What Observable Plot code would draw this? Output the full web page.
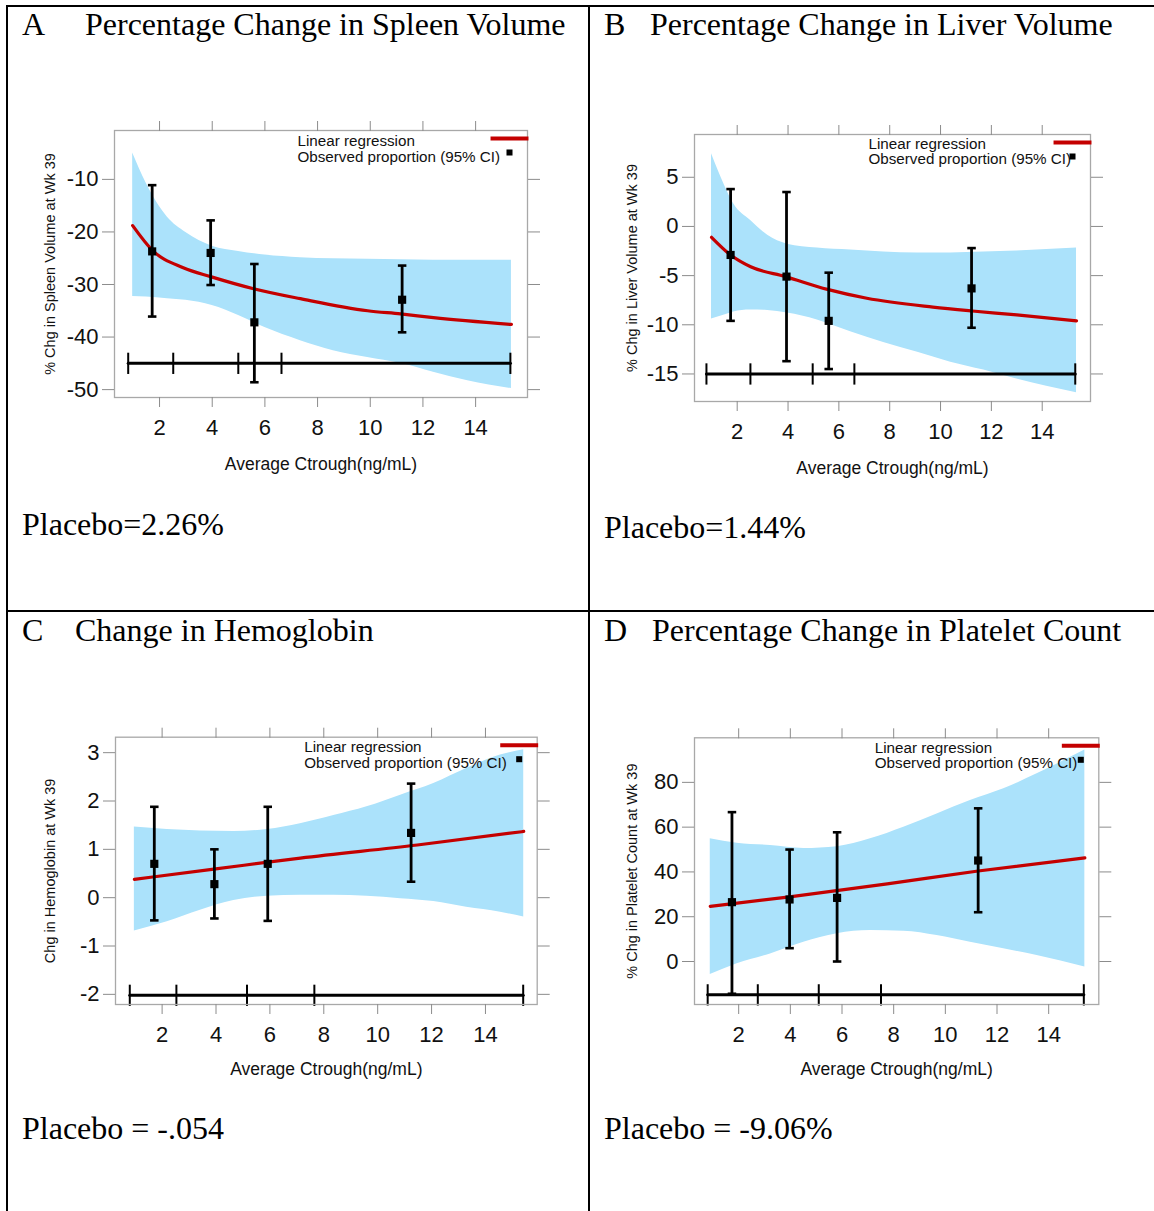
<!DOCTYPE html>
<html>
<head>
<meta charset="utf-8">
<script src="https://cdn.jsdelivr.net/npm/d3@7"></script>
<script src="https://cdn.jsdelivr.net/npm/@observablehq/plot@0.6"></script>
<style>
  body { margin: 0; background: #fff; }
  #fig { position: relative; width: 1154px; height: 1211px; overflow: hidden; background: #fff; }
  .rule { position: absolute; background: #000; }
  .serif { position: absolute; font-family: "Liberation Serif", "Times New Roman", serif; font-size: 32px; line-height: 32px; color: #000; white-space: nowrap; }
  .plot { position: absolute; }
</style>
</head>
<body>
<div id="fig"></div>
<script>
// ---------- shared text / ticks ----------
const xTicks = [2, 4, 6, 8, 10, 12, 14];
const xLabel = "Average Ctrough(ng/mL)";
const legendLineText = "Linear regression";
const legendPointText = "Observed proportion (95% CI)";

// ---------- A: spleen volume ----------
const spleenLetter = "A";
const spleenTitle = "Percentage Change in Spleen Volume";
const spleenYLabel = "% Chg in Spleen Volume at Wk 39";
const spleenPlacebo = "Placebo=2.26%";
const spleenYTicks = [-10, -20, -30, -40, -50];
const spleenBandX  = [0.98, 1.5, 2.3, 3.0, 4.0, 5.0, 6.0, 7.35, 8.6, 9.9, 11.15, 12.4, 13.7, 15.36];
const spleenBandHi = [-5.0, -10.8, -17.2, -20.1, -22.7, -23.7, -24.4, -24.9, -25.1, -25.2, -25.3, -25.4, -25.4, -25.4];
const spleenBandLo = [-32.3, -32.4, -32.7, -33.0, -34.0, -35.9, -38.2, -40.7, -42.6, -43.9, -45.0, -46.7, -48.3, -49.8];
const spleenFitX = [0.98, 1.73, 2.9, 3.94, 5.57, 7.35, 9.9, 11.15, 12.4, 15.36];
const spleenFitY = [-18.8, -23.5, -26.8, -28.5, -30.8, -32.7, -35.0, -35.6, -36.3, -37.6];
const spleenObsX  = [1.72, 3.94, 5.6, 11.21];
const spleenObsY  = [-23.7, -24.0, -37.2, -32.9];
const spleenObsLo = [-36.1, -30.1, -48.6, -39.1];
const spleenObsHi = [-11.1, -17.8, -26.1, -26.4];
const spleenQuartX = [0.81, 2.52, 4.99, 6.63, 15.32];
const spleenQuartLevel = -45.0;

// ---------- B: liver volume ----------
const liverLetter = "B";
const liverTitle = "Percentage Change in Liver Volume";
const liverYLabel = "% Chg in Liver Volume at Wk 39";
const liverPlacebo = "Placebo=1.44%";
const liverYTicks = [5, 0, -5, -10, -15];
const liverBandX  = [0.99, 1.5, 1.86, 2.53, 3.2, 3.97, 5.15, 6.46, 7.76, 9.1, 10.4, 11.7, 13.0, 15.35];
const liverBandHi = [7.4, 4.2, 2.3, 0.6, -0.9, -1.8, -2.2, -2.4, -2.6, -2.7, -2.7, -2.6, -2.5, -2.2];
const liverBandLo = [-9.4, -9.0, -8.7, -8.5, -8.55, -8.8, -9.5, -10.7, -11.8, -12.8, -13.8, -14.6, -15.5, -16.9];
const liverFitX = [0.99, 1.74, 2.53, 3.9, 5.55, 7.1, 9.7, 11.25, 13.0, 15.35];
const liverFitY = [-1.1, -2.9, -4.1, -5.1, -6.4, -7.3, -8.2, -8.6, -9.0, -9.6];
const liverObsX  = [1.74, 3.94, 5.6, 11.22];
const liverObsY  = [-2.9, -5.1, -9.6, -6.3];
const liverObsLo = [-9.6, -13.7, -14.5, -10.3];
const liverObsHi = [3.8, 3.5, -4.7, -2.2];
const liverQuartX = [0.79, 2.52, 4.97, 6.61, 15.3];
const liverQuartLevel = -15.0;

// ---------- C: hemoglobin ----------
const hgbLetter = "C";
const hgbTitle = "Change in Hemoglobin";
const hgbYLabel = "Chg in Hemoglobin at Wk 39";
const hgbPlacebo = "Placebo = -.054";
const hgbYTicks = [3, 2, 1, 0, -1, -2];
const hgbBandX  = [0.97, 2.19, 3.42, 4.66, 5.9, 7.13, 8.37, 9.6, 10.85, 12.08, 13.3, 14.56, 15.42];
const hgbBandHi = [1.46, 1.41, 1.38, 1.37, 1.41, 1.53, 1.7, 1.88, 2.12, 2.36, 2.67, 2.95, 3.06];
const hgbBandLo = [-0.69, -0.5, -0.26, -0.06, 0.03, 0.05, 0.05, 0.03, -0.02, -0.08, -0.2, -0.3, -0.4];
const hgbFitX = [0.97, 3.92, 7.13, 11.47, 15.42];
const hgbFitY = [0.38, 0.59, 0.82, 1.09, 1.37];
const hgbObsX  = [1.71, 3.94, 5.92, 11.24];
const hgbObsY  = [0.70, 0.28, 0.70, 1.34];
const hgbObsLo = [-0.47, -0.43, -0.48, 0.33];
const hgbObsHi = [1.88, 1.0, 1.88, 2.36];
const hgbQuartX = [0.8, 2.53, 5.15, 7.65, 15.4];
const hgbQuartLevel = -2.02;

// ---------- D: platelet count ----------
const pltLetter = "D";
const pltTitle = "Percentage Change in Platelet Count";
const pltYLabel = "% Chg in Platelet Count at Wk 39";
const pltPlacebo = "Placebo = -9.06%";
const pltYTicks = [80, 60, 40, 20, 0];
const pltBandX  = [0.9, 1.94, 3.23, 4.52, 5.81, 7.1, 8.39, 9.68, 10.97, 12.26, 13.55, 15.4];
const pltBandHi = [54.8, 52.8, 51.8, 50.5, 51.3, 54.8, 60.0, 65.9, 71.9, 77.1, 83.8, 94.5];
const pltBandLo = [-5.8, -1.0, 3.4, 8.6, 12.4, 13.8, 13.5, 11.6, 8.6, 5.7, 2.7, -2.5];
const pltFitX = [0.9, 3.97, 7.75, 11.27, 15.4];
const pltFitY = [24.6, 28.9, 34.7, 40.4, 46.3];
const pltObsX  = [1.74, 3.97, 5.81, 11.27];
const pltObsY  = [26.5, 27.7, 28.4, 45.1];
const pltObsLo = [-14.4, 5.95, 0, 22.0];
const pltObsHi = [66.7, 50.0, 57.7, 68.4];
const pltQuartX = [0.8, 2.74, 5.1, 7.51, 15.36];
const pltQuartLevel = -14.9;

// ---------- styling / layout ----------
const BAND = "#abe2fb";
const RED = "#c40000";
const AXIS_GRAY = "#8c8c8c";
const FRAME_GRAY = "#a8a8a8";
const SANS = '"Liberation Sans", Arial, Helvetica, sans-serif';

const hline = { draw(ctx, size) { const w = Math.sqrt(size); ctx.moveTo(-w, 0); ctx.lineTo(w, 0); } };
const vline = { draw(ctx, size) { const h = Math.sqrt(size); ctx.moveTo(0, -h); ctx.lineTo(0, h); } };
const plainTick = d => String(d);

const panels = [
  { letter: spleenLetter, title: spleenTitle, yLabel: spleenYLabel, placebo: spleenPlacebo, yTicks: spleenYTicks,
    bandX: spleenBandX, bandLo: spleenBandLo, bandHi: spleenBandHi, fitX: spleenFitX, fitY: spleenFitY,
    obsX: spleenObsX, obsY: spleenObsY, obsLo: spleenObsLo, obsHi: spleenObsHi, quartX: spleenQuartX, quartLevel: spleenQuartLevel,
    xDomain: [0.29, 15.97], yDomain: [-51.5, -0.7],
    svg: { left: 10, top: 100, width: 575, height: 390 }, margins: [30, 58, 93, 104],
    yLabelDx: -64, xLabelDy: 67, legendDx: -230, legendDy: [10.8, 26.2],
    letterPos: [22, 8], titlePos: [85, 8], placeboPos: [22, 508] },
  { letter: liverLetter, title: liverTitle, yLabel: liverYLabel, placebo: liverPlacebo, yTicks: liverYTicks,
    bandX: liverBandX, bandLo: liverBandLo, bandHi: liverBandHi, fitX: liverFitX, fitY: liverFitY,
    obsX: liverObsX, obsY: liverObsY, obsLo: liverObsLo, obsHi: liverObsHi, quartX: liverQuartX, quartLevel: liverQuartLevel,
    xDomain: [0.32, 15.9], yDomain: [-17.8, 9.35],
    svg: { left: 592, top: 100, width: 560, height: 390 }, margins: [34, 62, 89, 102],
    yLabelDx: -62, xLabelDy: 67, legendDx: -222, legendDy: [9.2, 24.6],
    letterPos: [604, 8], titlePos: [650, 8], placeboPos: [604, 511] },
  { letter: hgbLetter, title: hgbTitle, yLabel: hgbYLabel, placebo: hgbPlacebo, yTicks: hgbYTicks,
    bandX: hgbBandX, bandLo: hgbBandLo, bandHi: hgbBandHi, fitX: hgbFitX, fitY: hgbFitY,
    obsX: hgbObsX, obsY: hgbObsY, obsLo: hgbObsLo, obsHi: hgbObsHi, quartX: hgbQuartX, quartLevel: hgbQuartLevel,
    xDomain: [0.27, 15.92], yDomain: [-2.21, 3.32],
    svg: { left: 10, top: 705, width: 575, height: 390 }, margins: [31.7, 48.3, 91, 105],
    yLabelDx: -65, xLabelDy: 65, legendDx: -233, legendDy: [10.4, 25.8],
    letterPos: [22, 614], titlePos: [75, 614], placeboPos: [22, 1112] },
  { letter: pltLetter, title: pltTitle, yLabel: pltYLabel, placebo: pltPlacebo, yTicks: pltYTicks,
    bandX: pltBandX, bandLo: pltBandLo, bandHi: pltBandHi, fitX: pltFitX, fitY: pltFitY,
    obsX: pltObsX, obsY: pltObsY, obsLo: pltObsLo, obsHi: pltObsHi, quartX: pltQuartX, quartLevel: pltQuartLevel,
    xDomain: [0.29, 15.94], yDomain: [-19.2, 99.9],
    svg: { left: 592, top: 705, width: 560, height: 390 }, margins: [32.3, 53.7, 91, 102],
    yLabelDx: -62, xLabelDy: 65, legendDx: -224, legendDy: [10, 25.4],
    letterPos: [604, 614], titlePos: [652, 614], placeboPos: [604, 1112] }
];

const fig = document.getElementById("fig");

function addRule(left, top, width, height) {
  const d = document.createElement("div");
  d.className = "rule";
  Object.assign(d.style, { left: left + "px", top: top + "px", width: width + "px", height: height + "px" });
  fig.appendChild(d);
}
function addText(txt, [left, top]) {
  const d = document.createElement("div");
  d.className = "serif";
  d.textContent = txt;
  Object.assign(d.style, { left: left + "px", top: top + "px" });
  fig.appendChild(d);
}

// panel borders
addRule(6, 5, 1160, 2);
addRule(6, 5, 2, 1220);
addRule(588, 5, 2, 1220);
addRule(6, 610, 1160, 2);

for (const p of panels) {
  const band = p.bandX.map((x, i) => ({ x, lo: p.bandLo[i], hi: p.bandHi[i] }));
  const fit = p.fitX.map((x, i) => ({ x, y: p.fitY[i] }));
  const obs = p.obsX.map((x, i) => ({ x, y: p.obsY[i], lo: p.obsLo[i], hi: p.obsHi[i] }));
  const quart = p.quartX.map(x => ({ x, y: p.quartLevel }));
  const [mt, mr, mb, ml] = p.margins;

  const chart = Plot.plot({
    width: p.svg.width,
    height: p.svg.height,
    marginTop: mt, marginRight: mr, marginBottom: mb, marginLeft: ml,
    style: { fontFamily: SANS, background: "transparent", overflow: "visible" },
    x: { domain: p.xDomain, label: null },
    y: { domain: p.yDomain, label: null },
    marks: [
      Plot.areaY(band, { x: "x", y1: "lo", y2: "hi", fill: BAND, curve: "monotone-x" }),
      Plot.line(fit, { x: "x", y: "y", stroke: RED, strokeWidth: 3.2, curve: "monotone-x" }),
      Plot.line(quart, { x: "x", y: "y", stroke: "#000", strokeWidth: 3 }),
      Plot.dot(quart, { x: "x", y: "y", symbol: vline, r: 6, fill: "none", stroke: "#000", strokeWidth: 2 }),
      Plot.ruleX(obs, { x: "x", y1: "lo", y2: "hi", stroke: "#000", strokeWidth: 2.8 }),
      Plot.dot(obs, { x: "x", y: "lo", symbol: hline, r: 2.4, fill: "none", stroke: "#000", strokeWidth: 2.6 }),
      Plot.dot(obs, { x: "x", y: "hi", symbol: hline, r: 2.4, fill: "none", stroke: "#000", strokeWidth: 2.6 }),
      Plot.dot(obs, { x: "x", y: "y", symbol: "square", r: 4.6, fill: "#000", stroke: "none" }),
      Plot.frame({ stroke: FRAME_GRAY, strokeWidth: 1.3 }),
      Plot.axisX({ anchor: "bottom", ticks: xTicks, tickFormat: plainTick, tickSize: 10, tickPadding: 12, stroke: AXIS_GRAY, fill: "#111", fontSize: 22, label: null }),
      Plot.axisX({ anchor: "top", ticks: xTicks, tickSize: 10, stroke: AXIS_GRAY, fill: "none", label: null }),
      Plot.axisY({ anchor: "left", ticks: p.yTicks, tickFormat: plainTick, tickSize: 12, tickPadding: 4, stroke: AXIS_GRAY, fill: "#111", fontSize: 22, label: null }),
      Plot.axisY({ anchor: "right", ticks: p.yTicks, tickSize: 12, stroke: AXIS_GRAY, fill: "none", label: null }),
      Plot.text([xLabel], { text: d => d, frameAnchor: "bottom", lineAnchor: "middle", textAnchor: "middle", dy: p.xLabelDy, fontSize: 17.5, fill: "#111" }),
      Plot.text([p.yLabel], { text: d => d, frameAnchor: "left", lineAnchor: "middle", textAnchor: "middle", dx: p.yLabelDx, rotate: -90, fontSize: 14.5, fill: "#111" }),
      Plot.text([legendLineText], { text: d => d, frameAnchor: "top-right", textAnchor: "start", lineAnchor: "middle", dx: p.legendDx, dy: p.legendDy[0], fontSize: 15.2, fill: "#111" }),
      Plot.text([legendPointText], { text: d => d, frameAnchor: "top-right", textAnchor: "start", lineAnchor: "middle", dx: p.legendDx, dy: p.legendDy[1], fontSize: 15.2, fill: "#111" }),
      Plot.dot([legendLineText], { frameAnchor: "top-right", dx: -18, dy: 8, symbol: hline, r: 10.7, fill: "none", stroke: RED, strokeWidth: 4 }),
      Plot.dot([legendPointText], { frameAnchor: "top-right", dx: -18, dy: 22, symbol: "square", r: 3.4, fill: "#000", stroke: "none" })
    ]
  });
  chart.classList.add("plot");
  Object.assign(chart.style, { left: p.svg.left + "px", top: p.svg.top + "px" });
  fig.appendChild(chart);

  addText(p.letter, p.letterPos);
  addText(p.title, p.titlePos);
  addText(p.placebo, p.placeboPos);
}
</script>
</body>
</html>
